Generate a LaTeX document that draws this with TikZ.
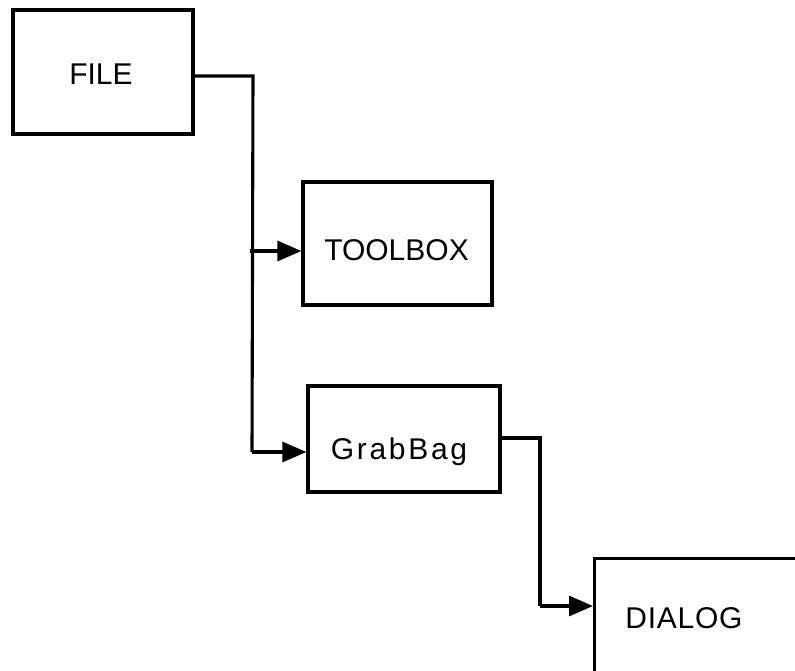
\documentclass[tikz,border=0pt]{standalone}
\usepackage{fontspec}
\setmainfont{Liberation Sans}
\usetikzlibrary{arrows.meta}
\tikzset{
  caixa/.style={draw,line width=3.2pt,rectangle,inner sep=0pt},
  rotulo/.style={anchor=base,inner sep=0pt,font=\fontsize{30}{35}\selectfont},
  linha/.style={line width=3.1pt},
  seta/.style={line width=3.1pt,-{Triangle[length=24pt,width=20pt]}}
}
\begin{document}
\begin{tikzpicture}[x=1pt,y=-1pt]
\useasboundingbox (0,0) rectangle (795,670);
\clip (0,0) rectangle (795,670);
% caixas
\node[caixa,minimum width=180,minimum height=124] (file) at (103,72) {};
\node[caixa,minimum width=189,minimum height=123] (toolbox) at (397.5,243.5) {};
\node[caixa,minimum width=192,minimum height=106] (grabbag) at (404,439) {};
\node[caixa,minimum width=260,minimum height=150,anchor=north west] (dialog) at (593,557) {};
% rótulos
\node[rotulo] (file-txt) at (101,84) {FILE};
\node[rotulo] (toolbox-txt) at (396.5,260) {TOOLBOX};
\node[rotulo] (grabbag-txt) at (399,459) {\addfontfeatures{LetterSpace=9}GrabBag};
\node[rotulo] (dialog-txt) at (684,628) {\addfontfeatures{LetterSpace=2.5}DIALOG};
% ligações
\coordinate (canto1) at (253,76);
\coordinate (ramo) at (250,251);
\coordinate (canto2) at (252,452);
\coordinate (canto3) at (540,438);
\coordinate (canto4) at (540,606);
\draw[linha] (file.east |- canto1) -- (canto1) -- (canto2);
\draw[seta] (ramo) -- (toolbox.west |- ramo);
\draw[seta] (canto2) -- (grabbag.west |- canto2);
\draw[linha] (grabbag.east |- canto3) -- (canto3) -- (canto4);
\draw[seta] (canto4) -- (dialog.west |- canto4);
\end{tikzpicture}
\end{document}
